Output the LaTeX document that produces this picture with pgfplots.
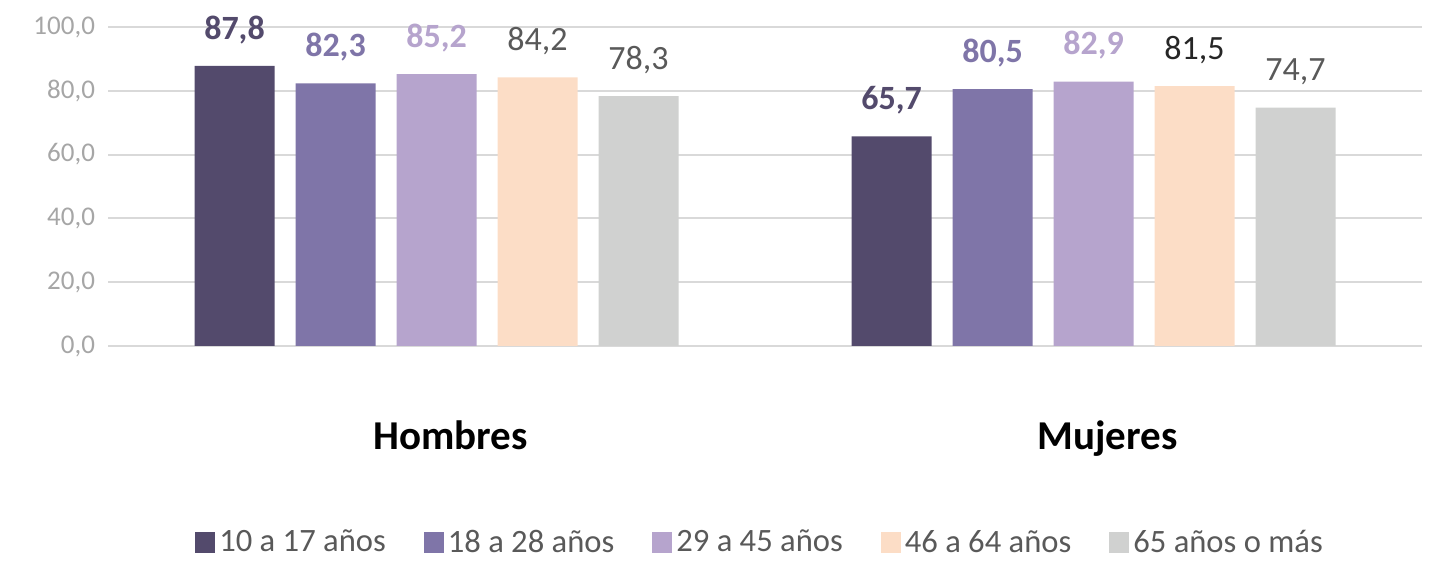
\documentclass[border=0pt]{standalone}
\usepackage{fontspec}
\setmainfont{Carlito}
\usepackage{pgfplots}
\pgfplotsset{compat=1.18}

\definecolor{cA}{HTML}{534A6C}
\definecolor{cB}{HTML}{7F75A8}
\definecolor{cC}{HTML}{B6A4CD}
\definecolor{cD}{HTML}{FCDDC6}
\definecolor{cE}{HTML}{D0D1D0}
\definecolor{gridc}{HTML}{D9D9D9}
\definecolor{tickc}{HTML}{A6A6A6}
\definecolor{lblgray}{HTML}{595959}
\definecolor{lbldark}{HTML}{262626}

\pgfkeys{/pgf/number format/.cd, fixed, fixed zerofill, precision=1, use comma, assume math mode=true}

\begin{document}
\begin{tikzpicture}
\begin{axis}[
  scale only axis,
  width=657pt, height=159.5pt,
  ybar=10.5pt, bar width=40pt,
  xmin=-0.5, xmax=1.5,
  ymin=0, ymax=100,
  xtick=data,
  xticklabels={Hombres,Mujeres},
  xticklabel style={font=\fontsize{20.5}{23}\selectfont\bfseries, text=black, yshift=-34pt, xshift=7pt},
  ytick={0,20,40,60,80,100},
  yticklabel style={font=\fontsize{13.5}{15}\selectfont, text=tickc, xshift=-3pt,
    /pgf/number format/fixed, /pgf/number format/fixed zerofill, /pgf/number format/precision=1,
    /pgf/number format/use comma, /pgf/number format/assume math mode=true},
  major tick length=0pt,
  axis x line*=bottom, axis y line*=left,
  x axis line style={draw=gridc, line width=1pt},
  y axis line style={draw=none},
  ymajorgrids, grid style={draw=gridc, line width=1pt},
  clip=false,
  nodes near coords,
  every node near coord/.append style={anchor=center, yshift=18pt, font=\fontsize{17}{19}\selectfont},
  legend style={at={(0.497,-0.616)}, anchor=center, draw=none, fill=none,
    font=\fontsize{16.3}{18}\selectfont, text=lblgray,
    /tikz/every even column/.append style={column sep=17pt}},
  legend columns=-1,
  legend image code/.code={\draw[#1,draw=none] (-3pt,-5pt) rectangle (7pt,5pt);},
]
\addplot[fill=cA, draw=none, every node near coord/.append style={text=cA, font=\fontsize{17}{19}\selectfont\bfseries}]
  coordinates {(0,87.8) (1,65.7)};
\addplot[fill=cB, draw=none, every node near coord/.append style={text=cB, font=\fontsize{17}{19}\selectfont\bfseries}]
  coordinates {(0,82.3) (1,80.5)};
\addplot[fill=cC, draw=none, every node near coord/.append style={text=cC, font=\fontsize{17}{19}\selectfont\bfseries}]
  coordinates {(0,85.2) (1,82.9)};
\addplot[fill=cD, draw=none, visualization depends on=x\as\myx,
  every node near coord/.append style={text=lblgray},
  nodes near coords={\ifdim\myx pt>0.5pt\color{lbldark}\fi\pgfmathprintnumber{\pgfplotspointmeta}}]
  coordinates {(0,84.2) (1,81.5)};
\addplot[fill=cE, draw=none, every node near coord/.append style={text=lblgray}]
  coordinates {(0,78.3) (1,74.7)};
\legend{10 a 17 años,18 a 28 años,29 a 45 años,46 a 64 años,65 años o más}
\end{axis}
\useasboundingbox ([xshift=-54pt,yshift=-105pt]current axis.south west) rectangle ([xshift=4.5pt,yshift=13.5pt]current axis.north east);
\end{tikzpicture}
\end{document}
